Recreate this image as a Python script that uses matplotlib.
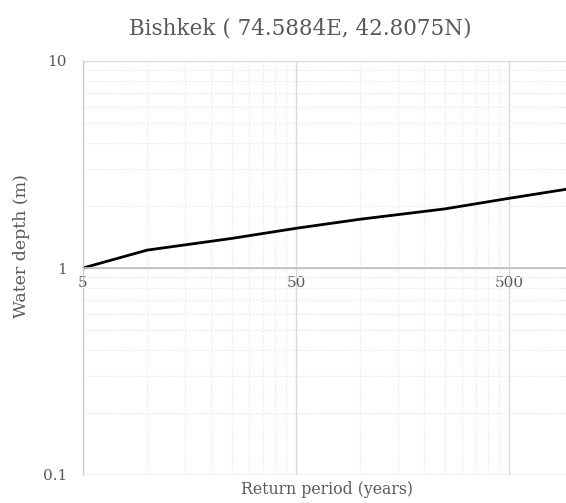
import matplotlib
matplotlib.use("Agg")
import matplotlib.pyplot as plt
from matplotlib.ticker import FixedLocator, NullFormatter, FixedFormatter

# Data
return_period = [5, 10, 25, 50, 100, 250, 500, 1000]
water_depth = [1.00, 1.22, 1.39, 1.555, 1.72, 1.93, 2.17, 2.43]
x_major = [5, 50, 500]
x_major_labels = ["5", "50", "500"]
y_major = [0.1, 1, 10]
y_major_labels = ["0.1", "1", "10"]
title = "Bishkek ( 74.5884E, 42.8075N)"
xlabel = "Return period (years)"
ylabel = "Water depth (m)"

TXT = "#595959"
FONT = "DejaVu Serif"
plt.rcParams["font.family"] = [FONT]

fig = plt.figure(figsize=(5.66, 5.03), dpi=100)
ax = fig.add_axes([83/566, 1-475/503, 1-83/566, (475-61)/503])

ax.set_xscale("log")
ax.set_yscale("log")
ax.set_xlim(5, 927)
ax.set_ylim(0.1, 10)

x_minor = [m * k for m in (5, 50, 500) for k in range(2, 10)]
y_minor = [m * k for m in (0.1, 1) for k in range(2, 10)]

ax.xaxis.set_major_locator(FixedLocator(x_major))
ax.xaxis.set_major_formatter(FixedFormatter(x_major_labels))
ax.xaxis.set_minor_locator(FixedLocator(x_minor))
ax.xaxis.set_minor_formatter(NullFormatter())
ax.yaxis.set_major_locator(FixedLocator(y_major))
ax.yaxis.set_major_formatter(FixedFormatter(y_major_labels))
ax.yaxis.set_minor_locator(FixedLocator(y_minor))
ax.yaxis.set_minor_formatter(NullFormatter())

ax.grid(True, which="major", color="#d9d9d9", linewidth=1.0, linestyle="-")
ax.grid(True, which="minor", color="#eeeeee", linewidth=0.9, linestyle=(0, (2, 1)))
ax.set_axisbelow(True)

for s in ("top", "right"):
    ax.spines[s].set_visible(False)
ax.spines["left"].set_color("#c8c8c8")
ax.spines["bottom"].set_position(("data", 1))
ax.spines["bottom"].set_color("#bfbfbf")
ax.spines["bottom"].set_linewidth(1.2)
ax.axhline(0.1, color="#d9d9d9", linewidth=1.0, zorder=0.5)

ax.tick_params(which="both", length=0)
ax.tick_params(axis="y", pad=11.5, labelsize=11, labelcolor=TXT)
ax.tick_params(axis="x", pad=6, labelsize=11, labelcolor=TXT)

ax.plot(return_period, water_depth, color="black", linewidth=2.0, solid_capstyle="butt", clip_on=True)

fig.text(300/566, 1-29/503, title, ha="center", va="center", fontsize=15.5, color=TXT)
fig.text(327/566, 1-490/503, xlabel, ha="center", va="center", fontsize=11.3, color=TXT)
fig.text(22/566, 1-246/503, ylabel, ha="center", va="center", rotation=90, fontsize=12.5, color=TXT)

fig.savefig("out.png", dpi=100)
